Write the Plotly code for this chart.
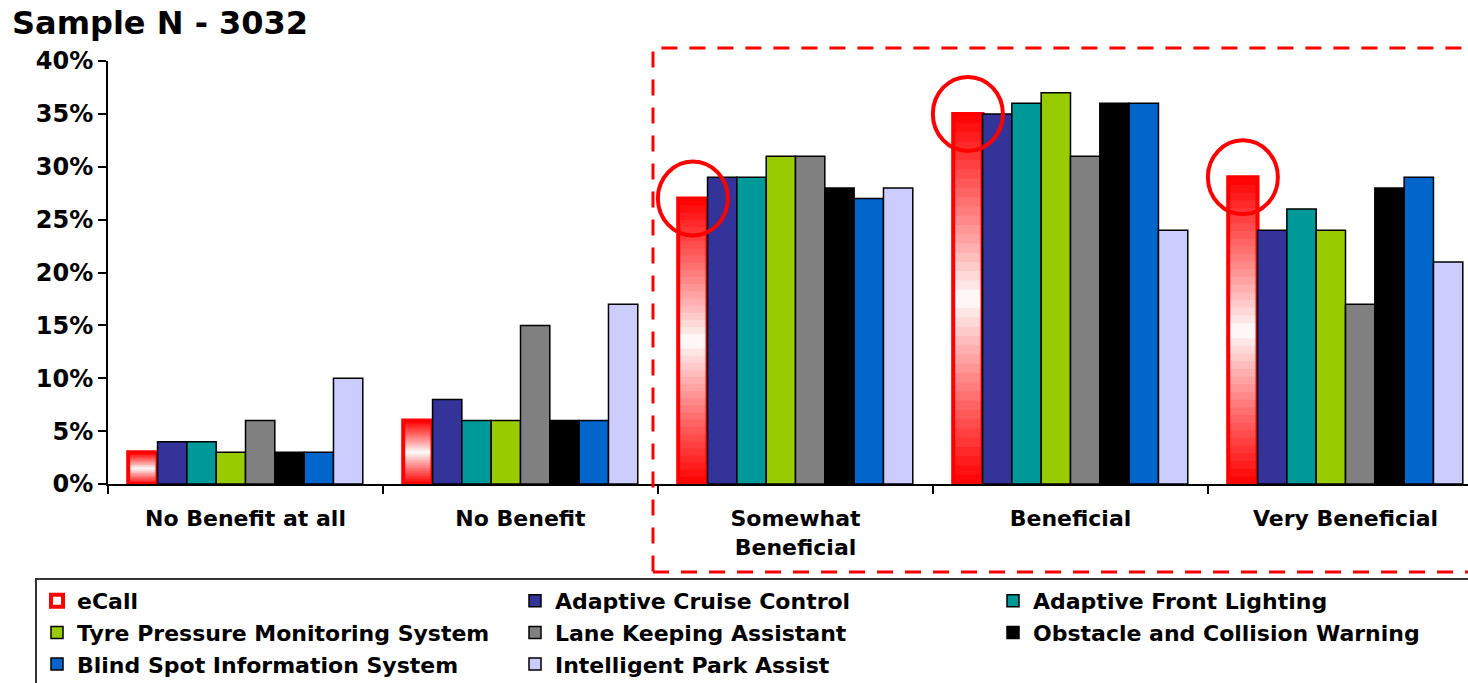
import plotly.graph_objects as go

categories = ["No Benefit at all", "No Benefit", "Somewhat<br>Beneficial", "Beneficial", "Very Beneficial"]
series_names = ["eCall", "Adaptive Cruise Control", "Adaptive Front Lighting",
                "Tyre Pressure Monitoring System", "Lane Keeping Assistant",
                "Obstacle and Collision Warning", "Blind Spot Information System",
                "Intelligent Park Assist"]
ecall = [3, 6, 27, 35, 29]
adaptive_cruise = [4, 8, 29, 35, 24]
adaptive_front = [4, 6, 29, 36, 26]
tyre_pressure = [3, 6, 31, 37, 24]
lane_keeping = [6, 15, 31, 31, 17]
obstacle_warning = [3, 6, 28, 36, 28]
blind_spot = [3, 6, 27, 36, 29]
park_assist = [10, 17, 28, 24, 21]
other_series = [adaptive_cruise, adaptive_front, tyre_pressure, lane_keeping,
                obstacle_warning, blind_spot, park_assist]
colors = ["#333399", "#009999", "#99CC00", "#808080", "#000000", "#0066CC", "#CCCCFF"]
highlight_idx = [2, 3, 4]

FONT = "DejaVu Sans"
W, H = 1468, 683
L, T, B = 108, 61, 484
PW, PH = 1360, B - T
BARGAP = 0.147
NSLICE = 40

fig = go.Figure()

# eCall gradient bar built from overlapping slices of the data value
for k in range(NSLICE):
    t = abs((k + 0.5) / NSLICE - 0.5) * 2
    g = int(round(255 * (1 - t ** 0.9)))
    bases = [v * k / NSLICE for v in ecall]
    tops = [min(v * (k + 2) / NSLICE, v) for v in ecall]
    fig.add_trace(go.Bar(
        x=categories, y=[tp - b for tp, b in zip(tops, bases)], base=bases,
        offsetgroup="g0", marker=dict(color=f"rgb(255,{g},{g})", line=dict(width=0)),
        showlegend=False, hoverinfo="skip"))
fig.add_trace(go.Bar(
    x=categories, y=ecall, name=series_names[0], offsetgroup="g0",
    marker=dict(color="rgba(255,255,255,0)", line=dict(color="#FF0000", width=4))))

for i, (vals, c) in enumerate(zip(other_series, colors)):
    fig.add_trace(go.Bar(
        x=categories, y=vals, name=series_names[i + 1], offsetgroup=f"g{i+1}",
        marker=dict(color=c, line=dict(color="#000000", width=1.5))))

# highlight circles around eCall bars
slot_w = (1 - BARGAP) / 8
ecall_off = -(1 - BARGAP) / 2 + slot_w / 2
for idx in highlight_idx:
    fig.add_shape(type="circle", xref="x", yref="y", xsizemode="pixel", ysizemode="pixel",
                  xanchor=idx + ecall_off, yanchor=ecall[idx],
                  x0=-35, x1=35, y0=-37, y1=37,
                  line=dict(color="#FF0000", width=4), fillcolor="rgba(0,0,0,0)")

# dashed highlight box
fig.add_shape(type="rect", xref="paper", yref="paper",
              x0=(653 - L) / PW, x1=1.02, y0=-(572 - B) / PH, y1=(B - 48) / PH,
              line=dict(color="#FF0000", width=3, dash="16px,12px"), fillcolor="rgba(0,0,0,0)")

fig.update_layout(
    width=W, height=H,
    margin=dict(l=L, r=0, t=T, b=H - B, autoexpand=False),
    barmode="group", bargap=BARGAP, bargroupgap=0,
    plot_bgcolor="white", paper_bgcolor="white",
    font=dict(family=FONT, color="#000000", weight="bold"),
    title=dict(text="Sample N - 3032", x=12 / W, xref="container", xanchor="left",
               y=1 - 23 / H, yref="container", yanchor="middle",
               font=dict(size=32, family=FONT, weight="bold", color="#000")),
    xaxis=dict(range=[-0.5, -0.5 + PW / 275], tickson="boundaries", ticks="outside",
               ticklen=8, tickwidth=2, tickcolor="#000", showline=True, linecolor="#000",
               linewidth=2, tickfont=dict(size=22, family=FONT, weight="bold"),
               ticklabelstandoff=14, showgrid=False, zeroline=False),
    yaxis=dict(range=[0, 40], dtick=5, ticksuffix="%", ticks="outside", ticklen=8,
               tickwidth=2, tickcolor="#000", showline=True, linecolor="#000", linewidth=2,
               tickfont=dict(size=24, family=FONT, weight="bold"), showgrid=False,
               zeroline=False),
    legend=dict(orientation="h", xref="paper", yref="paper",
                x=(35 - L) / PW, y=-(578 - B) / PH, xanchor="left", yanchor="top",
                entrywidth=433, entrywidthmode="pixels", traceorder="normal",
                bordercolor="#333", borderwidth=2, bgcolor="white",
                font=dict(size=22, family=FONT, weight="bold")),
)

fig.write_html("out.html")
